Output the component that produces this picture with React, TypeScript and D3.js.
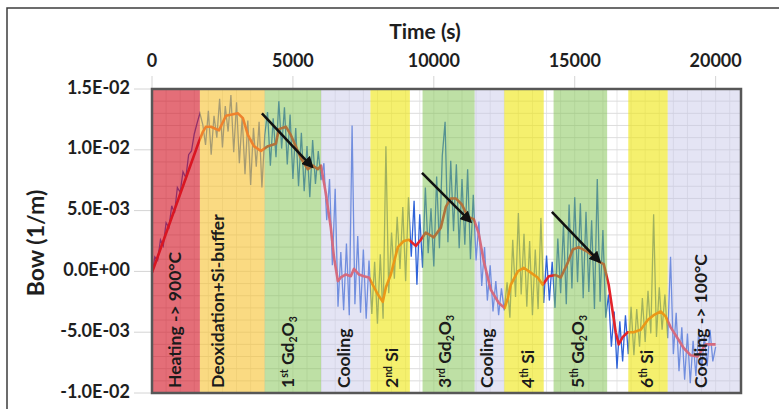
import React, { useEffect, useRef } from 'react';
import * as d3 from 'd3';

const WIDTH = 779;
const HEIGHT = 409;

// Smoothed bow curve: time (s) and bow (1e-3 1/m)
const smoothTime = [
    0, 1670, 1810, 1915, 2090, 2375, 2625, 3050, 3225, 3405, 3615, 3865, 4115, 4395, 4505, 4750,
    4930, 5285, 5530, 5710, 5885, 5995, 6170, 6345, 6455, 6595, 6700, 6880, 7055, 7165, 7340, 7520,
    7695, 7835, 8015, 8190, 8300, 8475, 8725, 8935, 9115, 9360, 9540, 9715, 10000, 10250, 10425,
    10600, 10780, 10995, 11205, 11420, 11595, 11775, 12020, 12305, 12515, 12625, 12730, 12980,
    13190, 13440, 13685, 13865, 14080, 14325, 14505, 14750, 14930, 15140, 15460, 15675, 15850,
    16030, 16205, 16345, 16455, 16560, 16700, 16880, 17090, 17340, 17590, 17800, 18050, 18225,
    18405, 18650, 18865, 19115, 19360, 19645, 20000
];
const smoothBow = [
    -0.1, 10.7, 11.5, 11.9, 11.9, 11.6, 12.8, 13.0, 12.6, 11.2, 10.3, 9.9, 10.3, 10.5, 11.7, 11.9,
    11.2, 9.3, 8.4, 8.7, 8.4, 8.7, 6.4, 3.6, 1.2, -0.8, -0.5, -0.25, -0.4, 0.2, -0.25, -0.4,
    -0.5, -1.1, -1.9, -2.5, -1.3, -0.25, 2.0, 2.5, 2.6, 2.1, 2.6, 3.2, 2.8, 3.6, 5.3,
    6.0, 6.0, 5.5, 4.5, 4.3, 3.1, 0.8, -1.5, -2.6, -3.0, -2.2, -1.1, 0.0,
    0.3, -0.1, -0.5, -1.1, -0.4, -0.3, -0.5, 0.7, 1.8, 2.0, 1.6, 1.2, 0.8,
    0.6, -1.1, -3.3, -5.0, -6.0, -5.4, -5.0, -5.0, -4.8, -4.0, -3.6, -3.3, -3.7,
    -4.6, -5.5, -6.3, -6.9, -7.0, -6.0, -6.0
];

// Raw bow signal (1e-3 1/m), one sample every RAW_DT seconds from t = 0
const RAW_DT = 100;
const rawBow = [
    // heating 0-1700
    -0.3, 1.2, 0.9, 2.6, 2.1, 4.0, 3.6, 5.4, 4.8, 6.9, 6.5, 8.2, 7.7, 9.6, 9.9, 11.3, 12.2, 13.0,
    // deoxidation 1800-4000
    12.1, 10.4, 13.2, 9.6, 12.8, 11.0, 14.2, 10.2, 13.6, 11.5, 14.5, 9.8, 13.9, 8.9, 12.7, 8.0,
    12.4, 7.1, 11.8, 8.6, 12.3, 6.9, 11.2,
    // 1st Gd2O3 4100-6000
    13.1, 8.7, 12.6, 9.4, 14.0, 10.1, 13.5, 8.8, 12.9, 7.6, 11.8, 7.0, 11.4, 6.6, 10.3, 6.1,
    10.8, 7.2, 9.9, 7.5,
    // cooling 6100-7700
    8.9, 4.2, 7.6, 0.5, 6.8, -2.9, 1.6, -3.2, 2.3, -3.6, 12.0, -2.7, 2.9, -3.4, 1.8, -3.9, 0.9,
    // 2nd Si 7800-9100
    -3.5, 0.8, -4.3, 1.4, -3.9, 10.3, -1.8, 3.2, -0.6, 4.5, 0.2, 5.3, -0.8, 6.1,
    // 3rd Gd2O3 9200-11400
    1.2, 5.8, -1.1, 4.7, 0.3, 6.9, 1.5, 5.2, 0.4, 7.8, 1.9, 9.5, 12.3, 2.4, 9.1, 3.3, 8.8, 1.9,
    7.6, 2.2, 8.4, 1.0, 6.3,
    // cooling 11500-12500
    0.9, 4.1, -1.2, 2.0, -2.4, 0.5, -3.3, -0.8, -3.6, -1.4, -3.2,
    // 4th Si 12600-13900
    -0.9, -3.8, 2.6, -2.1, 4.8, -1.9, 3.1, -2.9, 2.5, -3.6, 1.8, -3.1, 4.4, -2.6,
    // 5th Gd2O3 14000-16100
    1.3, -2.4, 0.8, -3.0, 2.7, -1.8, 3.9, -2.7, 5.5, -1.4, 6.1, -0.9, 5.6, -2.2, 4.9, -1.7,
    4.2, -3.1, 7.6, -2.5, 3.4, -3.8,
    // 6th Si 16200-18300
    -1.9, -6.2, -3.3, -8.0, -4.1, -7.4, -3.6, -6.8, -2.9, -6.9, -3.1, -6.2, -2.2, -5.8, -1.6,
    -5.1, 4.7, -5.4, -1.3, -4.8, -1.9, -5.5,
    // cooling 18400-20000
    1.2, -6.8, -3.4, -8.2, -4.6, -8.9, -5.1, -9.2, -5.7, -8.6, -4.9, -8.1, -5.3, -7.8, -4.8,
    -7.4, -6.2
];

// Process phases (s)
const phaseStart = [0, 1700, 4000, 6000, 7750, 9600, 11450, 12500, 14250, 16900, 18300];
const phaseEnd = [1700, 4000, 6000, 7750, 9150, 11450, 12500, 13900, 16150, 18300, 20900];
const phaseColor = ['#d20d1e', '#f7c12f', '#7dc24b', '#c4c4e7', '#eee60d', '#7dc24b', '#c4c4e7', '#eee60d', '#7dc24b', '#eee60d', '#c4c4e7'];
const phaseOpacity = [0.6, 0.6, 0.5, 0.45, 0.6, 0.5, 0.45, 0.6, 0.5, 0.6, 0.45];

// Phase labels: [text, style] parts, label centre time (s)
type Part = [string, '' | 'sup' | 'sub'];
const phaseLabels: Part[][] = [
    [['Heating -> 900°C', '']],
    [['Deoxidation+Si-buffer', '']],
    [['1', ''], ['st', 'sup'], [' Gd', ''], ['2', 'sub'], ['O', ''], ['3', 'sub']],
    [['Cooling', '']],
    [['2', ''], ['nd', 'sup'], [' Si', '']],
    [['3', ''], ['rd', 'sup'], [' Gd', ''], ['2', 'sub'], ['O', ''], ['3', 'sub']],
    [['Cooling', '']],
    [['4', ''], ['th', 'sup'], [' Si', '']],
    [['5', ''], ['th', 'sup'], [' Gd', ''], ['2', 'sub'], ['O', ''], ['3', 'sub']],
    [['6', ''], ['th', 'sup'], [' Si', '']],
    [['Cooling -> 100°C', '']]
];
const labelTime = [900, 2400, 4900, 6900, 8600, 10450, 11950, 13400, 15200, 17650, 19550];

// Arrows: start / end as [time, bow (1e-3 1/m)]
const arrowFrom = [[3900, 13.0], [9580, 8.1], [14190, 4.9]];
const arrowTo = [[5680, 8.6], [11300, 4.1], [15880, 0.8]];

const xTicks = [0, 5000, 10000, 15000, 20000];
const yTicks = [-0.01, -0.005, 0, 0.005, 0.01, 0.015];

const FONT = "Lato, 'Open Sans', sans-serif";

const excelSci = (v: number) => {
    const [m, e] = v.toExponential(1).split('e');
    const n = parseInt(e, 10);
    const exp = (n < 0 ? '-' : '+') + String(Math.abs(n)).padStart(2, '0');
    return `${m}E${exp}`;
};

export default function App() {
    const svgRef = useRef<SVGSVGElement>(null);

    useEffect(() => {
        if (!svgRef.current) return;
        const svg = d3.select(svgRef.current);
        svg.selectAll('*').remove();

        const left = 152, right = 741, top = 89, bottom = 393;
        const x = d3.scaleLinear().domain([0, 20900]).range([left, right]);
        const y = d3.scaleLinear().domain([-0.01, 0.015]).range([bottom, top]);

        svg.append('rect').attr('width', WIDTH).attr('height', HEIGHT).attr('fill', '#fff');

        const defs = svg.append('defs');
        defs.append('clipPath').attr('id', 'plot-clip')
            .append('rect').attr('x', left).attr('y', top)
            .attr('width', right - left).attr('height', bottom - top);
        defs.append('marker')
            .attr('id', 'arrow-head')
            .attr('viewBox', '0 0 10 10')
            .attr('refX', 8).attr('refY', 5)
            .attr('markerWidth', 4.6).attr('markerHeight', 4.6)
            .attr('orient', 'auto')
            .append('path').attr('d', 'M0,0 L10,5 L0,10 z').attr('fill', '#111');

        // outer frame (top and left edges only)
        svg.append('path').attr('d', `M7,${HEIGHT} L7,8 L${WIDTH},8`)
            .attr('fill', 'none').attr('stroke', '#3c3c3c').attr('stroke-width', 1.5);

        // faint tick guides outside the plot
        svg.append('g').selectAll('line').data(xTicks).join('line')
            .attr('x1', d => x(d)).attr('x2', d => x(d))
            .attr('y1', 76).attr('y2', top)
            .attr('stroke', '#d4d4d4').attr('stroke-width', 1);
        svg.append('g').selectAll('line').data(yTicks).join('line')
            .attr('x1', 134).attr('x2', left)
            .attr('y1', d => y(d)).attr('y2', d => y(d))
            .attr('stroke', '#d4d4d4').attr('stroke-width', 1);

        const plot = svg.append('g').attr('clip-path', 'url(#plot-clip)');

        // grid
        plot.append('g').selectAll('line').data(d3.range(-0.01, 0.0151, 0.001)).join('line')
            .attr('x1', left).attr('x2', right)
            .attr('y1', d => y(d)).attr('y2', d => y(d))
            .attr('stroke', '#cfcfcf').attr('stroke-width', 0.7);
        plot.append('g').selectAll('line').data(d3.range(0, 21000, 500)).join('line')
            .attr('x1', d => x(d)).attr('x2', d => x(d))
            .attr('y1', top).attr('y2', bottom)
            .attr('stroke', '#dcdcdc').attr('stroke-width', 0.7);

        // raw signal
        const raw = rawBow.map((v, i) => [i * RAW_DT, v / 1000] as [number, number]);
        plot.append('path').datum(raw)
            .attr('d', d3.line<[number, number]>().x(d => x(d[0])).y(d => y(d[1])))
            .attr('fill', 'none').attr('stroke', '#2f63d8').attr('stroke-width', 1.3);

        // smoothed curve
        const smooth = smoothTime.map((t, i) => [t, smoothBow[i] / 1000] as [number, number]);
        plot.append('path').datum(smooth)
            .attr('d', d3.line<[number, number]>().x(d => x(d[0])).y(d => y(d[1])))
            .attr('fill', 'none').attr('stroke', '#e3232a').attr('stroke-width', 2.6)
            .attr('stroke-linejoin', 'round');

        // translucent phase bands over the data
        plot.append('g').selectAll('rect').data(phaseStart).join('rect')
            .attr('x', (d) => x(d))
            .attr('width', (d, i) => x(phaseEnd[i]) - x(d))
            .attr('y', top).attr('height', bottom - top)
            .attr('fill', (d, i) => phaseColor[i])
            .attr('fill-opacity', (d, i) => phaseOpacity[i]);

        // arrows
        arrowFrom.forEach((a, i) => {
            const b = arrowTo[i];
            svg.append('line')
                .attr('x1', x(a[0])).attr('y1', y(a[1] / 1000))
                .attr('x2', x(b[0])).attr('y2', y(b[1] / 1000))
                .attr('stroke', '#111').attr('stroke-width', 2.6)
                .attr('marker-end', 'url(#arrow-head)');
        });

        // phase labels
        phaseLabels.forEach((parts, i) => {
            const t = svg.append('text')
                .attr('transform', `translate(${x(labelTime[i])},388) rotate(-90)`)
                .attr('dominant-baseline', 'middle')
                .attr('font-family', FONT).attr('font-weight', 700)
                .attr('font-size', 17.5).attr('fill', '#1b1b1b');
            let shift = 0;
            parts.forEach(([txt, kind]) => {
                const target = kind === 'sup' ? -5 : kind === 'sub' ? 4 : 0;
                t.append('tspan')
                    .attr('dy', target - shift)
                    .attr('font-size', kind ? 10.5 : 17.5)
                    .text(txt);
                shift = target;
            });
        });

        // plot border
        svg.append('rect')
            .attr('x', left).attr('y', top)
            .attr('width', right - left).attr('height', bottom - top)
            .attr('fill', 'none').attr('stroke', '#575757').attr('stroke-width', 2.5);

        // axis labels
        svg.append('g').selectAll('text').data(xTicks).join('text')
            .attr('x', d => x(d)).attr('y', 62)
            .attr('text-anchor', 'middle').attr('dominant-baseline', 'middle')
            .attr('font-family', FONT).attr('font-weight', 700).attr('font-size', 18)
            .attr('fill', '#1e1e1e')
            .text(d => String(d));
        svg.append('g').selectAll('text').data(yTicks).join('text')
            .attr('x', 130).attr('y', d => y(d))
            .attr('text-anchor', 'end').attr('dominant-baseline', 'middle')
            .attr('font-family', FONT).attr('font-weight', 700).attr('font-size', 18)
            .attr('fill', '#1e1e1e')
            .text(d => excelSci(d));

        svg.append('text')
            .attr('x', 425).attr('y', 34)
            .attr('text-anchor', 'middle').attr('dominant-baseline', 'middle')
            .attr('font-family', FONT).attr('font-weight', 700).attr('font-size', 21)
            .attr('fill', '#1e1e1e')
            .text('Time (s)');
        svg.append('text')
            .attr('transform', 'translate(38,243) rotate(-90)')
            .attr('text-anchor', 'middle').attr('dominant-baseline', 'middle')
            .attr('font-family', FONT).attr('font-weight', 700).attr('font-size', 23)
            .attr('fill', '#1e1e1e')
            .text('Bow (1/m)');
    }, []);

    return (
        <svg
            ref={svgRef}
            width={WIDTH}
            height={HEIGHT}
            style={{ position: 'absolute', left: 0, top: 0, display: 'block' }}
        />
    );
}
